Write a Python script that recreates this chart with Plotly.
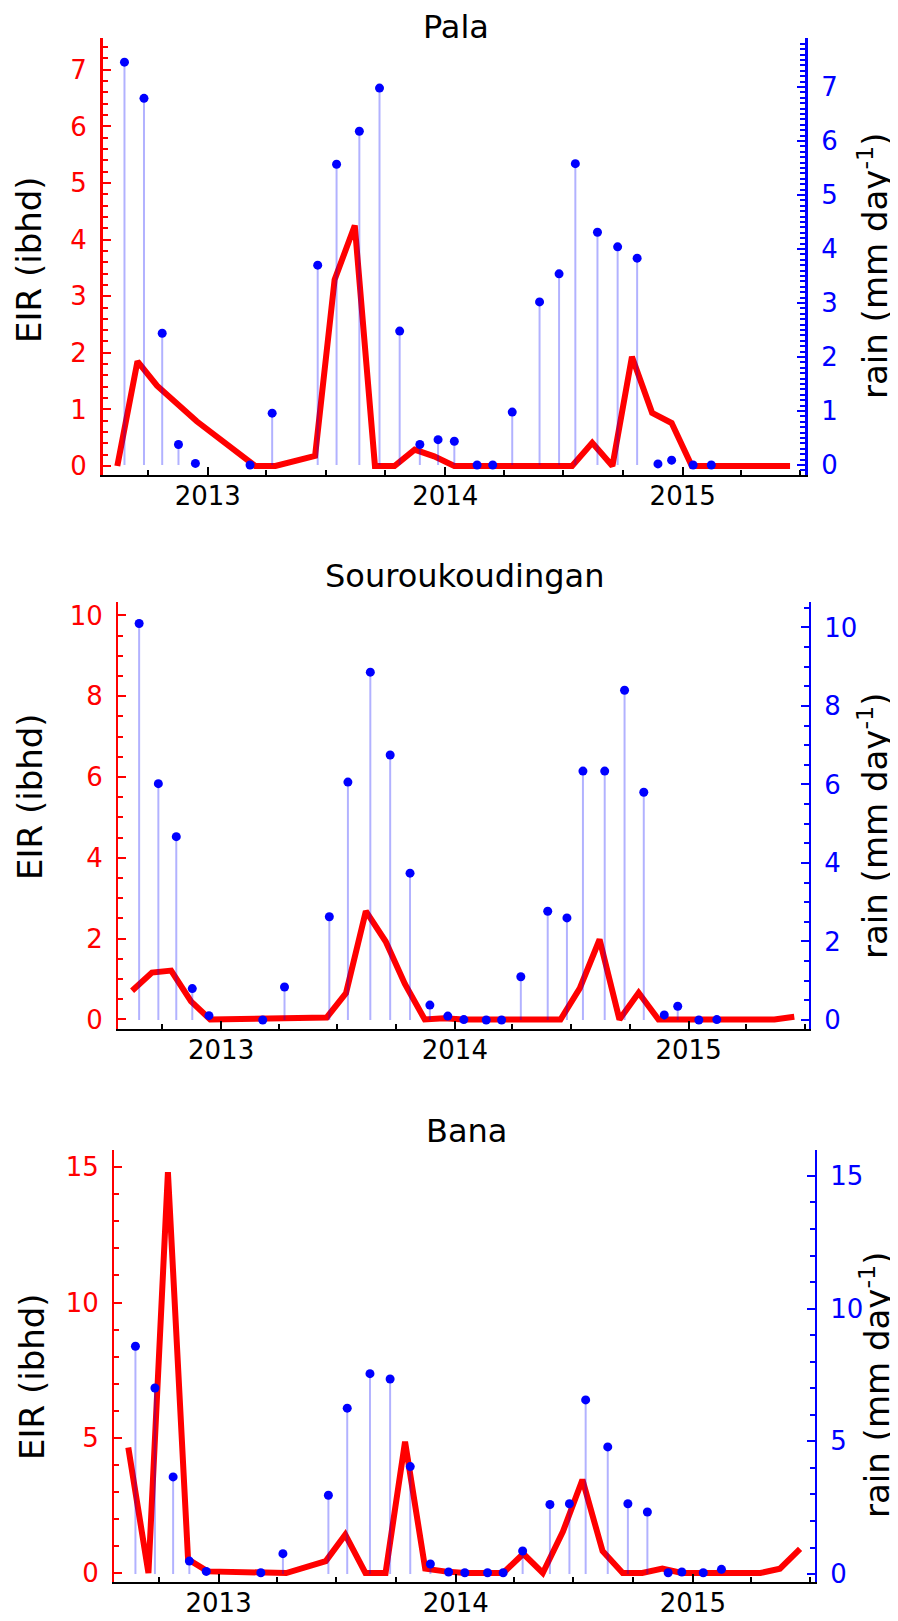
import plotly.graph_objects as go

# ---------------- data ----------------
rain_dates = ["2012-08-26", "2012-09-25", "2012-10-23", "2012-11-17", "2012-12-13",
              "2013-03-07", "2013-04-10", "2013-06-19", "2013-07-18", "2013-08-22",
              "2013-09-22", "2013-10-23", "2013-11-23", "2013-12-21", "2014-01-15",
              "2014-02-19", "2014-03-15", "2014-04-14", "2014-05-26", "2014-06-25",
              "2014-07-20", "2014-08-23", "2014-09-23", "2014-10-23", "2014-11-24",
              "2014-12-15", "2015-01-17", "2015-02-14"]

pala_rain = [7.46, 6.79, 2.44, 0.38, 0.03, 0.0, 0.96, 3.70, 5.57, 6.18,
             6.98, 2.48, 0.38, 0.47, 0.44, 0.0, 0.0, 0.98, 3.02, 3.54,
             5.58, 4.31, 4.04, 3.83, 0.02, 0.09, 0.0, 0.0]
sourou_rain = [10.10, 6.02, 4.67, 0.80, 0.11, 0.0, 0.84, 2.63, 6.06, 8.86,
               6.75, 3.74, 0.38, 0.10, 0.01, 0.0, 0.0, 1.10, 2.77, 2.60,
               6.34, 6.34, 8.40, 5.80, 0.13, 0.35, 0.0, 0.01]
bana_rain = [8.58, 7.01, 3.66, 0.49, 0.10, 0.05, 0.77, 2.97, 6.25, 7.55,
             7.35, 4.05, 0.38, 0.08, 0.05, 0.05, 0.05, 0.87, 2.62, 2.65,
             6.56, 4.79, 2.65, 2.34, 0.05, 0.08, 0.05, 0.18]

pala_eir_dates = ["2012-08-15", "2012-09-15", "2012-10-15", "2012-11-15", "2012-12-15",
                  "2013-03-15", "2013-04-15", "2013-06-15", "2013-07-15", "2013-08-15",
                  "2013-09-15", "2013-10-15", "2013-11-15", "2013-12-15", "2014-01-15",
                  "2014-07-15", "2014-08-15", "2014-09-15", "2014-10-15", "2014-11-15",
                  "2014-12-15", "2015-01-15", "2015-06-15"]
pala_eir = [0.0, 1.85, 1.42, 1.10, 0.79, 0.0, 0.0, 0.18, 3.29, 4.25,
            0.0, 0.0, 0.29, 0.17, 0.0, 0.0, 0.41, 0.0, 1.93, 0.94,
            0.76, 0.0, 0.0]

sourou_eir_dates = ["2012-08-15", "2012-09-15", "2012-10-15", "2012-11-15", "2012-12-15",
                    "2013-06-15", "2013-07-15", "2013-08-15", "2013-09-15", "2013-10-15",
                    "2013-11-15", "2013-12-15", "2014-01-15", "2014-06-15", "2014-07-15",
                    "2014-08-15", "2014-09-15", "2014-10-15", "2014-11-15", "2015-05-15",
                    "2015-06-15"]
sourou_eir = [0.71, 1.16, 1.21, 0.45, 0.0, 0.05, 0.65, 2.68, 1.93, 0.88,
              0.0, 0.03, 0.0, 0.0, 0.77, 1.98, 0.0, 0.66, 0.0, 0.0,
              0.07]

bana_eir_dates = ["2012-08-15", "2012-09-15", "2012-10-15", "2012-11-15", "2012-12-15",
                  "2013-04-15", "2013-06-15", "2013-07-15", "2013-08-15", "2013-09-15",
                  "2013-10-15", "2013-11-15", "2013-12-15", "2014-01-15", "2014-03-15",
                  "2014-04-15", "2014-05-15", "2014-06-15", "2014-07-15", "2014-08-15",
                  "2014-09-15", "2014-10-15", "2014-11-15", "2014-12-15", "2015-04-15",
                  "2015-05-15", "2015-06-15"]
bana_eir = [4.64, 0.0, 14.82, 0.51, 0.06, 0.0, 0.44, 1.42, 0.0, 0.0,
            4.85, 0.16, 0.06, 0.0, 0.0, 0.71, 0.0, 1.53, 3.45, 0.81,
            0.0, 0.0, 0.16, 0.0, 0.0, 0.16, 0.89]

site_names = ["Pala", "Souroukoudingan", "Bana"]

# ---------------- styling / layout ----------------
W, H = 898, 1621
RED, BLUE = "#ff0000", "#0000ff"
FONT = "DejaVu Sans"
x_range = ["2012-07-24", "2015-07-08"]

panels = [
    dict(name=site_names[0], eir_d=pala_eir_dates, eir=pala_eir, rain=pala_rain,
         xpx=(95, 797), ypx=(30, 467), yl=[-0.159, 7.562], yr=[-0.185, 7.907],
         dt=1, mleft=0.2, mright=0.1, lw=3,
         title=(448, 18.5), ltitle=(21, 252), rtitle=(865, 258)),
    dict(name=site_names[1], eir_d=sourou_eir_dates, eir=sourou_eir, rain=sourou_rain,
         xpx=(110, 801), ypx=(594, 1020.7), yl=[-0.228, 10.334], yr=[-0.222, 10.647],
         dt=2, mleft=0.5, mright=0.5, lw=2,
         title=(456.5, 568), ltitle=(22, 789), rtitle=(865, 818)),
    dict(name=site_names[2], eir_d=bana_eir_dates, eir=bana_eir, rain=bana_rain,
         xpx=(106, 807), ypx=(1142, 1573.5), yl=[-0.314, 15.638], yr=[-0.279, 15.974],
         dt=5, mleft=1, mright=1, lw=2,
         title=(458.5, 1123), ltitle=(24, 1369), rtitle=(867, 1377)),
]

fig = go.Figure()
annotations = []
layout = {}

for i, p in enumerate(panels):
    xn = "x" if i == 0 else f"x{i+1}"
    yl_n = "y" if i == 0 else f"y{2*i+1}"
    yr_n = f"y{2*i+2}"
    xkey = "xaxis" if i == 0 else f"xaxis{i+1}"
    ylkey = "yaxis" if i == 0 else f"yaxis{2*i+1}"
    yrkey = f"yaxis{2*i+2}"

    # stems from zero up to each rain value
    sx, sy = [], []
    for d, v in zip(rain_dates, p["rain"]):
        sx += [d, d, None]
        sy += [0, v, None]

    fig.add_trace(go.Scatter(x=p["eir_d"], y=p["eir"], mode="lines",
                             line=dict(color=RED, width=6), xaxis=xn, yaxis=yl_n,
                             hoverinfo="skip"))
    fig.add_trace(go.Scatter(x=sx, y=sy, mode="lines",
                             line=dict(color="rgba(0,0,255,0.3)", width=2),
                             xaxis=xn, yaxis=yr_n, hoverinfo="skip"))
    fig.add_trace(go.Scatter(x=rain_dates, y=p["rain"], mode="markers",
                             marker=dict(color=BLUE, size=9), xaxis=xn, yaxis=yr_n,
                             hoverinfo="skip"))

    x0, x1 = p["xpx"]
    ytop, ybot = p["ypx"]
    layout[xkey] = dict(
        domain=[x0 / W, x1 / W], anchor=yl_n, type="date", range=x_range,
        showline=True, linecolor="black", linewidth=2, mirror=False,
        ticks="inside", ticklen=8, tickwidth=1.5, tickcolor="black",
        tick0="2013-01-01", dtick="M12", tickformat="%Y",
        minor=dict(ticks="inside", dtick="M3", tick0="2012-01-01", ticklen=5,
                   tickwidth=1.5, tickcolor="black", showgrid=False),
        showgrid=False, zeroline=False, ticklabelstandoff=-3,
        tickfont=dict(family=FONT, size=26, color="black"), automargin=False)
    layout[ylkey] = dict(
        domain=[1 - ybot / H, 1 - ytop / H], anchor=xn, range=p["yl"],
        showline=True, linecolor=RED, linewidth=p["lw"],
        ticks="inside", ticklen=8, tickwidth=2, tickcolor=RED,
        tick0=0, dtick=p["dt"],
        minor=dict(ticks="inside", dtick=p["mleft"], tick0=0, ticklen=5,
                   tickwidth=1.5, tickcolor=RED, showgrid=False),
        showgrid=False, zeroline=False, ticklabelstandoff=8,
        tickfont=dict(family=FONT, size=26, color=RED), automargin=False)
    layout[yrkey] = dict(
        overlaying=yl_n, side="right", anchor=xn, range=p["yr"],
        showline=True, linecolor=BLUE, linewidth=p["lw"],
        ticks="inside", ticklen=8, tickwidth=2, tickcolor=BLUE,
        tick0=0, dtick=p["dt"],
        minor=dict(ticks="inside", dtick=p["mright"], tick0=0, ticklen=5,
                   tickwidth=1.5, tickcolor=BLUE, showgrid=False),
        showgrid=False, zeroline=False, ticklabelstandoff=8,
        tickfont=dict(family=FONT, size=26, color=BLUE), automargin=False)

    tx, ty = p["title"]
    annotations.append(dict(text=p["name"], x=tx / W, y=1 - ty / H, xref="paper", yref="paper",
                            showarrow=False, xanchor="center", yanchor="middle",
                            font=dict(family=FONT, size=32, color="black")))
    lx, ly = p["ltitle"]
    annotations.append(dict(text="EIR (ibhd)", x=lx / W, y=1 - ly / H, xref="paper", yref="paper",
                            showarrow=False, xanchor="center", yanchor="middle", textangle=-90,
                            font=dict(family=FONT, size=34, color="black")))
    rx, ry = p["rtitle"]
    annotations.append(dict(text="rain (mm day<sup>-1</sup>)", x=rx / W, y=1 - ry / H,
                            xref="paper", yref="paper",
                            showarrow=False, xanchor="center", yanchor="middle", textangle=-90,
                            font=dict(family=FONT, size=34, color="black")))

fig.update_layout(**layout)
fig.update_layout(width=W, height=H, margin=dict(l=0, r=0, t=0, b=0, pad=0),
                  paper_bgcolor="white", plot_bgcolor="white", showlegend=False,
                  annotations=annotations, font=dict(family=FONT))

fig.write_html("out.html")
